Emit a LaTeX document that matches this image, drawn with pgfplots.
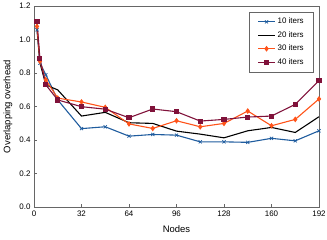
\documentclass[border=0pt]{standalone}
\usepackage{fontspec}
\setmainfont{Liberation Sans}
\usepackage{pgfplots}
\pgfplotsset{compat=1.18}
\definecolor{cblue}{HTML}{1F5C9E}
\definecolor{corange}{HTML}{FF5319}
\definecolor{cred}{HTML}{80123A}
\begin{document}
\begin{tikzpicture}
\begin{axis}[
  scale only axis,
  width=285bp, height=201bp,
  xmin=0, xmax=192, ymin=0, ymax=1.2,
  xtick={0,32,64,96,128,160,192},
  ytick={0,0.2,0.4,0.6,0.8,1.0,1.2},
  yticklabel style={/pgf/number format/.cd, fixed, fixed zerofill, precision=1},
  /pgf/number format/assume math mode=true,
  tick label style={font=\fontsize{8}{9}\selectfont},
  label style={font=\fontsize{9.5}{11}\selectfont},
  xlabel={Nodes}, ylabel={Overlapping overhead},
  xlabel style={at={(axis description cs:0.5,-0.109)}, anchor=center},
  ylabel style={at={(axis description cs:-0.0912,0.5)}, anchor=center},
  axis line style={gray!80!black, line width=0.8pt},
  tick style={gray!80!black, line width=0.6pt},
  tick pos=left, tick align=inside,
  major tick length=3pt,
  legend style={at={(0.982,0.97)}, anchor=north east, draw=gray!80!black, font=\fontsize{8}{9}\selectfont, row sep=2.2pt, inner xsep=8pt, inner ysep=4pt},
  legend cell align=left,
  every axis plot/.append style={line width=1.1pt},
]
\addplot[color=cblue, mark=x, mark size=2.2pt, mark options={line width=0.7pt}] coordinates {
(2,1.058) (4,0.859) (8,0.789) (16,0.639) (32,0.468) (48,0.479) (64,0.423) (80,0.433) (96,0.429) (112,0.389) (128,0.389) (144,0.386) (160,0.410) (176,0.395) (192,0.455)};
\addlegendentry{10 iters}
\addplot[color=black, no marks] coordinates {
(2,1.07) (4,0.86) (8,0.729) (16,0.699) (32,0.543) (48,0.565) (64,0.503) (80,0.499) (96,0.453) (112,0.435) (128,0.413) (144,0.455) (160,0.475) (176,0.445) (192,0.539)};
\addlegendentry{20 iters}
\addplot[color=corange, mark=diamond*, mark size=2pt] coordinates {
(2,1.078) (4,0.87) (8,0.759) (16,0.65) (32,0.627) (48,0.595) (64,0.496) (80,0.469) (96,0.515) (112,0.479) (128,0.499) (144,0.573) (160,0.485) (176,0.523) (192,0.645)};
\addlegendentry{30 iters}
\addplot[color=cred, mark=square*, mark size=2pt] coordinates {
(2,1.108) (4,0.886) (8,0.729) (16,0.639) (32,0.599) (48,0.584) (64,0.533) (80,0.585) (96,0.569) (112,0.513) (128,0.523) (144,0.537) (160,0.543) (176,0.613) (192,0.754)};
\addlegendentry{40 iters}
\end{axis}
\pgfresetboundingbox
\path ([shift={(-34bp,-33bp)}]current axis.south west) rectangle ([shift={(8bp,6bp)}]current axis.north east);
\end{tikzpicture}
\end{document}
